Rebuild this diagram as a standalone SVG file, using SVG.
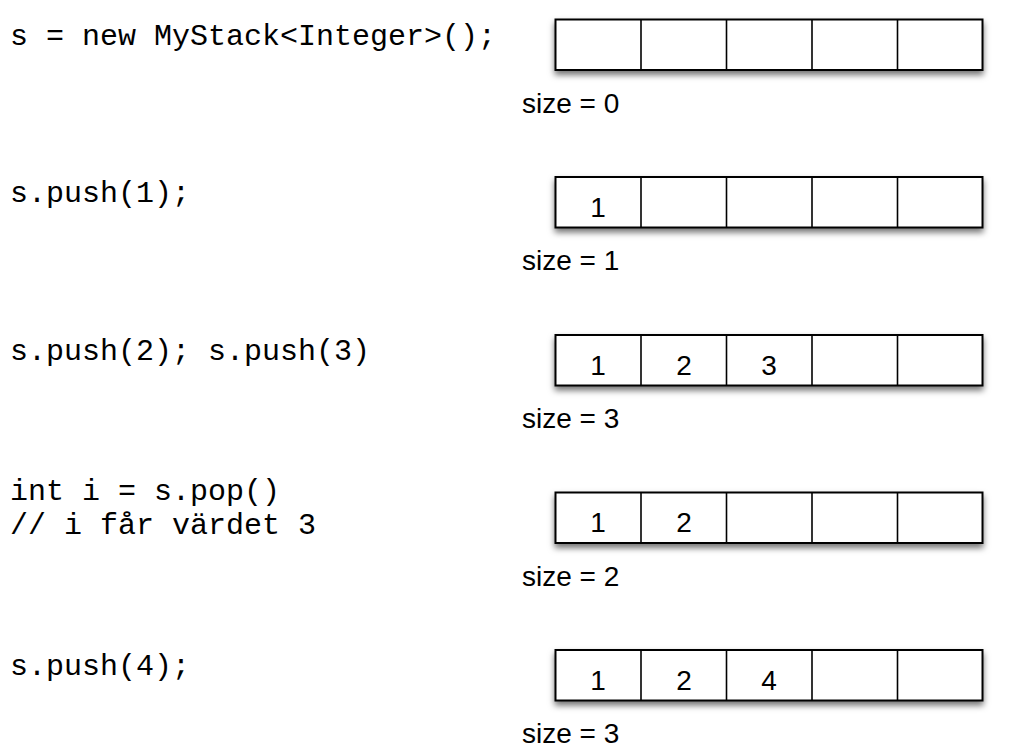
<svg xmlns="http://www.w3.org/2000/svg" width="1011" height="751" viewBox="0 0 1011 751">
<style>
.code{font-family:"Liberation Mono","DejaVu Sans Mono",monospace;font-size:30px;fill:#000}
.lbl{font-family:"Liberation Sans",Arial,sans-serif;font-size:28px;fill:#000}
.num{font-family:"Liberation Sans",Arial,sans-serif;font-size:28px;fill:#000;text-anchor:middle}
.box{fill:#fff;stroke:#000;stroke-width:2}
.div{stroke:#000;stroke-width:1.6}
</style>
<defs>
<filter id="sh" x="-5%" y="-30%" width="110%" height="180%">
<feDropShadow dx="0" dy="4" stdDeviation="3" flood-color="#000" flood-opacity="0.55"/>
</filter>
<g id="arr">
<rect class="box" x="555.5" y="0" width="427" height="50.5" filter="url(#sh)"/>
<line class="div" x1="641" y1="0" x2="641" y2="50.5"/>
<line class="div" x1="726.5" y1="0" x2="726.5" y2="50.5"/>
<line class="div" x1="812" y1="0" x2="812" y2="50.5"/>
<line class="div" x1="897.5" y1="0" x2="897.5" y2="50.5"/>
</g>
</defs>
<rect width="1011" height="751" fill="#fff"/>
<g id="step1">
<text class="code" x="10" y="45">s = new MyStack&lt;Integer&gt;();</text>
<use href="#arr" y="19.5"/>
<text class="lbl" x="522" y="113">size = 0</text>
</g>
<g id="step2">
<text class="code" x="10" y="202">s.push(1);</text>
<use href="#arr" y="177"/>
<text class="num" x="598" y="217">1</text>
<text class="lbl" x="522" y="270">size = 1</text>
</g>
<g id="step3">
<text class="code" x="10" y="360">s.push(2); s.push(3)</text>
<use href="#arr" y="335"/>
<text class="num" x="598" y="375">1</text>
<text class="num" x="684" y="375">2</text>
<text class="num" x="769" y="375">3</text>
<text class="lbl" x="522" y="428">size = 3</text>
</g>
<g id="step4">
<text class="code" x="10" y="500">int i = s.pop()</text>
<text class="code" x="10" y="534">// i får värdet 3</text>
<use href="#arr" y="492.5"/>
<text class="num" x="598" y="532">1</text>
<text class="num" x="684" y="532">2</text>
<text class="lbl" x="522" y="586">size = 2</text>
</g>
<g id="step5">
<text class="code" x="10" y="675">s.push(4);</text>
<use href="#arr" y="650"/>
<text class="num" x="598" y="690">1</text>
<text class="num" x="684" y="690">2</text>
<text class="num" x="769" y="690">4</text>
<text class="lbl" x="522" y="743">size = 3</text>
</g>
<g id="connectors"/>
</svg>
